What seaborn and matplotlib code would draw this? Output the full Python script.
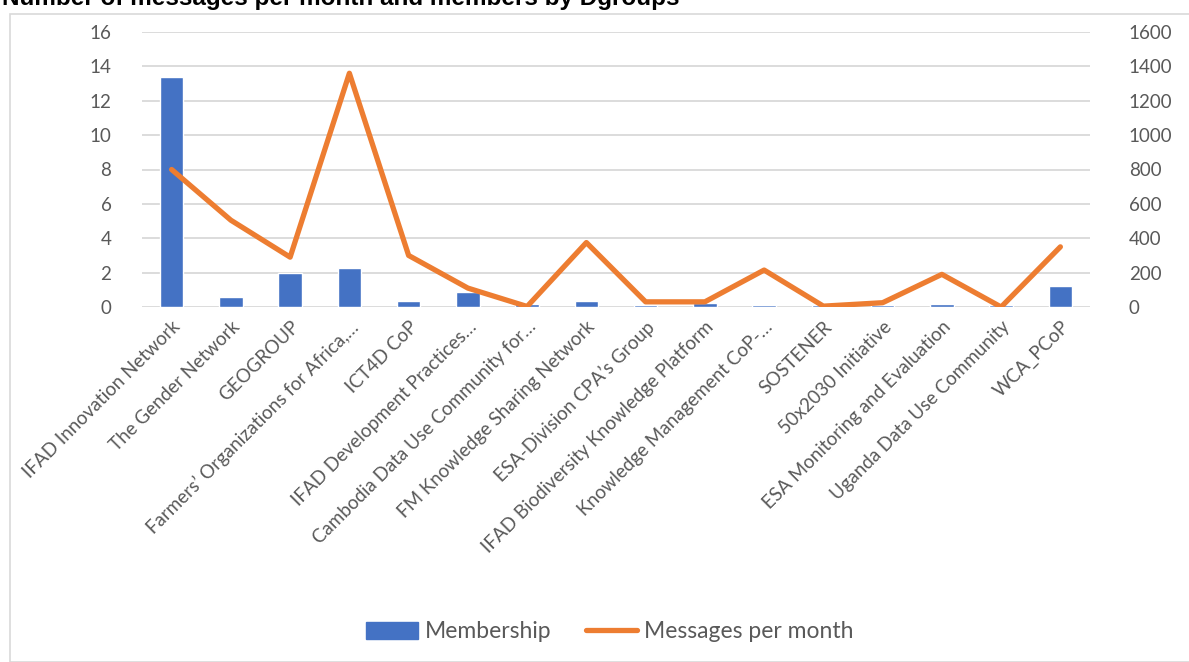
import numpy as np
import pandas as pd
import matplotlib
matplotlib.use("Agg")
import matplotlib.pyplot as plt
import seaborn as sns
from matplotlib.patches import Rectangle
from matplotlib.lines import Line2D
from matplotlib.patches import Patch

groups = [
    "IFAD Innovation Network",
    "The Gender Network",
    "GEOGROUP",
    "Farmers’ Organizations for Africa,…",
    "ICT4D CoP",
    "IFAD Development Practices…",
    "Cambodia Data Use Community for…",
    "FM Knowledge Sharing Network",
    "ESA-Division CPA’s Group",
    "IFAD Biodiversity Knowledge Platform",
    "Knowledge Management CoP-…",
    "SOSTENER",
    "50x2030 Initiative",
    "ESA Monitoring and Evaluation",
    "Uganda Data Use Community",
    "WCA_PCoP",
]
membership = [13.4, 0.6, 2.0, 2.25, 0.35, 0.85, 0.15, 0.35, 0.1, 0.25, 0.1, 0.12, 0.1, 0.15, 0.1, 1.25]
messages = [800, 505, 290, 1360, 300, 110, 3, 375, 30, 30, 215, 5, 25, 190, 0, 350]
left_ticks = [0, 2, 4, 6, 8, 10, 12, 14, 16]
right_ticks = [0, 200, 400, 600, 800, 1000, 1200, 1400, 1600]

sns.set_theme(style="white")
plt.rcParams['font.family'] = ['Lato', 'DejaVu Sans']

BAR = "#4472C4"
LINE = "#ED7D31"
TXT = "#595959"
GRID = "#D9D9D9"

W, H = 1189, 662
fig = plt.figure(figsize=(W / 100, H / 100), dpi=100)
ax = fig.add_axes([142 / W, 1 - 307 / H, (1090 - 142) / W, (307 - 32) / H])

df = pd.DataFrame({"group": groups, "membership": membership, "messages": messages})
sns.barplot(data=df, x="group", y="membership", color=BAR, saturation=1, width=0.4, ax=ax, zorder=2)
ax.set_ylim(0, 16)
ax.set_xlim(-0.5, len(groups) - 0.5)
ax.set_yticks(left_ticks)
ax.set_yticklabels([str(t) for t in left_ticks])
ax.yaxis.grid(True, color=GRID, linewidth=1.3, zorder=0)
ax.set_axisbelow(True)
for s in ax.spines.values():
    s.set_visible(False)
ax.set_xlabel("")
ax.set_ylabel("")
ax.tick_params(axis="both", length=0, colors=TXT, labelsize=13.5)
ax.tick_params(axis="y", pad=22)
ax.set_xticks(range(len(groups)))
ax.set_xticklabels(groups, rotation=45, ha="right", rotation_mode="anchor", color=TXT, fontsize=13.5)
ax.tick_params(axis="x", pad=8)

ax2 = ax.twinx()
sns.lineplot(x=np.arange(len(groups)), y=messages, ax=ax2, color=LINE, linewidth=3.8, zorder=3)
ax2.set_ylim(0, 1600)
ax2.set_yticks(right_ticks)
ax2.set_yticklabels([str(t) for t in right_ticks])
for s in ax2.spines.values():
    s.set_visible(False)
ax2.tick_params(axis="y", length=0, colors=TXT, labelsize=13.5, pad=28)
ax2.set_ylabel("")
ax2.grid(False)

fig.patches.append(Rectangle((10 / W, 0), 1.2, 1 - 14 / H, transform=fig.transFigure,
                             fill=False, edgecolor=GRID, linewidth=1.2))

fig.text(2 / W, 1 - 5 / H, "Number of messages per month and members by Dgroups",
         fontsize=17.5, fontweight="bold", family=["Liberation Sans", "DejaVu Sans"],
         ha="left", va="baseline", color="black")

handles = [Patch(facecolor=BAR, edgecolor=BAR), Line2D([0], [0], color=LINE, linewidth=3.8, solid_capstyle="round")]
fig.legend(handles, ["Membership", "Messages per month"], loc="center",
           bbox_to_anchor=(610 / W, 1 - 632 / H), ncol=2, frameon=False,
           fontsize=16.5, labelcolor=TXT, handlelength=2.25, handleheight=0.7,
           columnspacing=1.5, handletextpad=0.3)

fig.savefig("out.png", dpi=100)
